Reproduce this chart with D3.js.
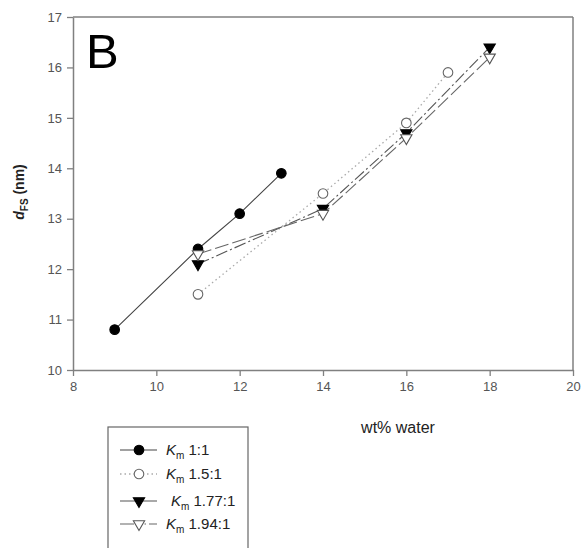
<!DOCTYPE html>
<html>
<head>
<meta charset="utf-8">
<script src="https://cdn.jsdelivr.net/npm/d3@7"></script>
<style>
  body { margin: 0; background: #fff; }
  text { font-family: "Liberation Sans", Arial, sans-serif; }
</style>
</head>
<body>
<div id="chart"></div>
<script>
// data (wt% water vs d_FS in nm)
const seriesNames = ["1:1", "1.5:1", "1.77:1", "1.94:1"];
const water11 = [9, 11, 12, 13];
const d11 = [10.8, 12.4, 13.1, 13.9];
const water15 = [11, 14, 16, 17];
const d15 = [11.5, 13.5, 14.9, 15.9];
const water177 = [11, 14, 16, 18];
const d177 = [12.1, 13.2, 14.7, 16.4];
const water194 = [11, 14, 16, 18];
const d194 = [12.3, 13.1, 14.6, 16.2];
const xTicks = [8, 10, 12, 14, 16, 18, 20];
const yTicks = [10, 11, 12, 13, 14, 15, 16, 17];

const width = 583, height = 548;
const svg = d3.select("#chart").append("svg")
    .attr("width", width)
    .attr("height", height);

const x = d3.scaleLinear().domain([8, 20]).range([73, 573]);
const y = d3.scaleLinear().domain([10, 17]).range([370, 17]);

const axisColor = "#808080";
const labelColor = "#555";

// frame (top and right)
svg.append("line").attr("x1", x(8)).attr("x2", x(20)).attr("y1", y(17)).attr("y2", y(17))
    .attr("stroke", axisColor).attr("stroke-width", 1.5);
svg.append("line").attr("x1", x(20)).attr("x2", x(20)).attr("y1", y(17)).attr("y2", y(10))
    .attr("stroke", axisColor).attr("stroke-width", 1.5);

const xAxis = svg.append("g")
    .attr("transform", "translate(0," + y(10) + ")")
    .call(d3.axisBottom(x).tickValues(xTicks).tickFormat(d3.format("d"))
        .tickSize(6).tickPadding(6).tickSizeOuter(0));
const yAxis = svg.append("g")
    .attr("transform", "translate(" + x(8) + ",0)")
    .call(d3.axisLeft(y).tickValues(yTicks).tickFormat(d3.format("d"))
        .tickSize(6).tickPadding(5).tickSizeOuter(0));

[xAxis, yAxis].forEach(function(g) {
    g.select(".domain").attr("stroke", axisColor).attr("stroke-width", 1.5);
    g.selectAll(".tick line").attr("stroke", axisColor).attr("stroke-width", 1.3);
    g.selectAll(".tick text").attr("fill", labelColor)
        .style("font-family", "Liberation Sans, Arial, sans-serif")
        .style("font-size", "13px");
});

// panel letter
svg.append("text").attr("x", 86).attr("y", 68)
    .attr("font-size", "49px").attr("fill", "#000").text("B");

// axis titles
svg.append("text").attr("x", 398).attr("y", 433)
    .attr("text-anchor", "middle").attr("font-size", "16px").attr("fill", "#222")
    .text("wt% water");

const yl = svg.append("text")
    .attr("transform", "translate(24,192) rotate(-90)")
    .attr("text-anchor", "middle").attr("font-size", "14px").attr("fill", "#222");
yl.append("tspan").attr("font-weight", "bold").attr("font-style", "italic").text("d");
yl.append("tspan").attr("font-size", "10px").attr("dy", 4).attr("font-weight", "bold").text("FS");
yl.append("tspan").attr("dy", -4).attr("font-weight", "bold").text(" (nm)");

const series = [
    { xs: water11, ys: d11, stroke: "#444", dash: null, legDash: null, width: 1.1, marker: "circle", fill: "#000" },
    { xs: water15, ys: d15, stroke: "#aaa", dash: "1.5,3", legDash: "1.5,3", width: 1.3, marker: "circle", fill: "#fff" },
    { xs: water177, ys: d177, stroke: "#555", dash: "12,3,2,3", legDash: null, width: 1.1, marker: "tri", fill: "#000" },
    { xs: water194, ys: d194, stroke: "#666", dash: "14,4", legDash: "14,6,1.5,3,1.5,3", width: 1.1, marker: "tri", fill: "#fff" }
];

const line = d3.line().x(function(d) { return x(d[0]); }).y(function(d) { return y(d[1]); });

function drawMarker(g, s, cx, cy) {
    if (s.marker === "circle") {
        g.append("circle").attr("cx", cx).attr("cy", cy).attr("r", 4.8)
            .attr("fill", s.fill).attr("stroke", s.fill === "#000" ? "#000" : "#666").attr("stroke-width", 1.1);
    } else {
        g.append("path")
            .attr("d", d3.symbol().type(d3.symbolTriangle).size(55)())
            .attr("transform", "translate(" + cx + "," + cy + ") rotate(180)")
            .attr("fill", s.fill).attr("stroke", s.fill === "#000" ? "#000" : "#555").attr("stroke-width", 1.1);
    }
}

series.forEach(function(s) {
    const pts = s.xs.map(function(v, i) { return [v, s.ys[i]]; });
    svg.append("path").datum(pts).attr("d", line)
        .attr("fill", "none").attr("stroke", s.stroke).attr("stroke-width", s.width)
        .attr("stroke-dasharray", s.dash);
});
series.forEach(function(s) {
    const g = svg.append("g");
    s.xs.forEach(function(v, i) { drawMarker(g, s, x(v), y(s.ys[i])); });
});

// legend
const leg = svg.append("g");
leg.append("rect").attr("x", 108).attr("y", 427).attr("width", 140).attr("height", 130)
    .attr("fill", "#fff").attr("stroke", "#666").attr("stroke-width", 1.2);
const legY = [450, 474, 501, 524];
series.forEach(function(s, i) {
    const ly = legY[i];
    leg.append("line").attr("x1", 120).attr("x2", 157).attr("y1", ly).attr("y2", ly)
        .attr("stroke", s.stroke).attr("stroke-width", s.width)
        .attr("stroke-dasharray", s.legDash);
    drawMarker(leg, s, 139, ly);
    const t = leg.append("text").attr("x", i === 2 ? 171 : 166).attr("y", ly + 5)
        .attr("font-size", "15px").attr("fill", "#222");
    t.append("tspan").attr("font-style", "italic").text("K");
    t.append("tspan").attr("font-size", "10px").attr("dy", 4).text("m");
    t.append("tspan").attr("dy", -4).text(" " + seriesNames[i]);
});
</script>
</body>
</html>
